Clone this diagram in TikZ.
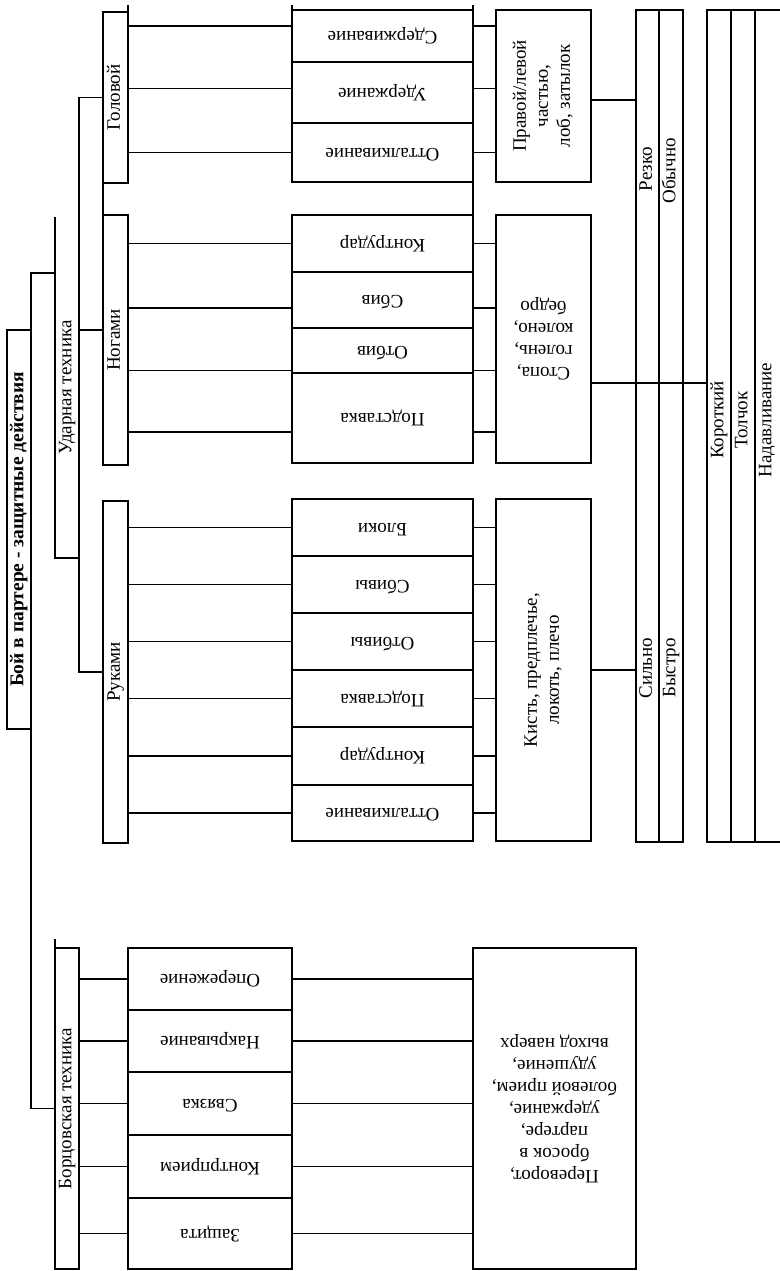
\documentclass[tikz,border=0pt]{standalone}
\usepackage{fontspec}
\setmainfont{Liberation Serif}
\usepackage{graphicx}
\usepackage{tikz}

\newcommand{\uptext}[1]{\rotatebox{90}{\begin{tabular}{@{}c@{}}#1\end{tabular}}}
\newcommand{\fliptext}[1]{\rotatebox{180}{\begin{tabular}{@{}c@{}}#1\end{tabular}}}

\begin{document}
\begin{tikzpicture}[
  x=1pt,
  y=-1pt,
  box/.style={draw, line width=1.2pt, inner sep=0pt, outer sep=0pt, font=\fontsize{19}{22}\selectfont},
  lab/.style={inner sep=0pt, font=\fontsize{19}{22}\selectfont},
  conn/.style={line width=1.2pt}
]
  \useasboundingbox (0,0) rectangle (779,1271);

  % main branches
  \node[box, minimum width=24pt, minimum height=399pt] (root) at (19,529.5)
    {\uptext{\fontsize{19.5}{22}\selectfont\textbf{Бой в партере - защитные действия}}};
  \node[box, draw=none, minimum width=24pt, minimum height=341pt] (udar) at (67,387.5)
    {\uptext{Ударная техника}};
  \node[box, minimum width=24pt, minimum height=321pt] (bort) at (67,1108.5)
    {\uptext{Борцовская техника}};
  \node[box, minimum width=25pt, minimum height=171pt] (gol) at (115.5,97.5) {\uptext{Головой}};
  \node[box, minimum width=25pt, minimum height=250pt] (nog) at (115.5,340) {\uptext{Ногами}};
  \node[box, minimum width=25pt, minimum height=342pt] (ruk) at (115.5,672) {\uptext{Руками}};

  % actions
  \node[box, minimum width=181pt, minimum height=52pt] (g1) at (382.5,36) {\fliptext{Сдерживание}};
  \node[box, minimum width=181pt, minimum height=61pt] (g2) at (382.5,92.5) {\fliptext{Удержание}};
  \node[box, minimum width=181pt, minimum height=59pt] (g3) at (382.5,152.5) {\fliptext{Отталкивание}};
  \node[box, minimum width=181pt, minimum height=57pt] (n1) at (382.5,243.5) {\fliptext{Контрудар}};
  \node[box, minimum width=181pt, minimum height=56pt] (n2) at (382.5,300) {\fliptext{Сбив}};
  \node[box, minimum width=181pt, minimum height=45pt] (n3) at (382.5,350.5) {\fliptext{Отбив}};
  \node[box, minimum width=181pt, minimum height=90pt] (n4) at (382.5,418) {\fliptext{Подставка}};
  \node[box, minimum width=181pt, minimum height=57pt] (r1) at (382.5,527.5) {\fliptext{Блоки}};
  \node[box, minimum width=181pt, minimum height=57pt] (r2) at (382.5,584.5) {\fliptext{Сбивы}};
  \node[box, minimum width=181pt, minimum height=57pt] (r3) at (382.5,641.5) {\fliptext{Отбивы}};
  \node[box, minimum width=181pt, minimum height=57pt] (r4) at (382.5,698.5) {\fliptext{Подставка}};
  \node[box, minimum width=181pt, minimum height=58pt] (r5) at (382.5,756) {\fliptext{Контрудар}};
  \node[box, minimum width=181pt, minimum height=56pt] (r6) at (382.5,813) {\fliptext{Отталкивание}};
  \node[box, minimum width=164pt, minimum height=62pt] (b1) at (210,979) {\fliptext{Опережение}};
  \node[box, minimum width=164pt, minimum height=62pt] (b2) at (210,1041) {\fliptext{Накрывание}};
  \node[box, minimum width=164pt, minimum height=63pt] (b3) at (210,1103.5) {\fliptext{Связка}};
  \node[box, minimum width=164pt, minimum height=63pt] (b4) at (210,1166.5) {\fliptext{Контрприем}};
  \node[box, minimum width=164pt, minimum height=71pt] (b5) at (210,1233.5) {\fliptext{Защита}};

  % body parts
  \node[box, minimum width=95pt, minimum height=172pt] (golp) at (543.5,96)
    {\uptext{Правой/левой\\частью,\\лоб, затылок}};
  \node[box, minimum width=95pt, minimum height=248pt] (nogp) at (543.5,339)
    {\fliptext{Стопа,\\голень,\\колено,\\бедро}};
  \node[box, minimum width=95pt, minimum height=342pt] (rukp) at (543.5,670)
    {\uptext{Кисть, предплечье,\\локоть, плечо}};
  \node[box, minimum width=163pt, minimum height=321pt] (bortp) at (554.5,1108.5)
    {\fliptext{Переворот,\\бросок в\\партере,\\удержание,\\болевой прием,\\удушение,\\выход наверх}};

  % manner columns
  \node[box, minimum width=23pt, minimum height=832pt] (cA1) at (647.5,426) {};
  \node[box, minimum width=24pt, minimum height=832pt] (cA2) at (671,426) {};
  \node[box, minimum width=24pt, minimum height=832pt] (cB1) at (719,426) {};
  \node[box, minimum width=24pt, minimum height=832pt] (cB2) at (743,426) {};
  \node[box, minimum width=30pt, minimum height=832pt] (cB3) at (770,426) {};
  \node[lab] (rezko) at (647.5,169) {\uptext{Резко}};
  \node[lab] (obychno) at (671,171) {\uptext{Обычно}};
  \node[lab] (silno) at (647.5,668) {\uptext{Сильно}};
  \node[lab] (bystro) at (671,668) {\uptext{Быстро}};
  \node[lab] (korot) at (719,420) {\uptext{Короткий}};
  \node[lab] (tolchok) at (743,420) {\uptext{Толчок}};
  \node[lab] (nadav) at (767,420) {\uptext{Надавливание}};

  % tree lines
  \draw[conn] (bort.west) -| (root.east) |- ([yshift=114.5pt]udar.west);
  \draw[conn] (udar.north west) -- (udar.south west) -- (udar.south east);
  \draw[conn] (gol.west) -| (udar.east) |- (ruk.west);
  \draw[conn] ([yshift=10pt]nog.west) -- ([yshift=10pt]nog.west -| udar.east);
  \draw[conn] (gol.south west) -- (nog.north west);
  \draw[conn] (gol.north east) -- ++(0,-7);
  \draw[conn] (g1.north west) -- ++(0,-5);
  \draw[conn] (g1.north east) -- ++(0,-5);
  \draw[conn] (g3.south east) -- (n1.north east);
  \draw[conn] (bort.north west) -- ++(0,-9);

  \draw[conn] ([yshift=10pt]g1.west -| gol.east) -- ([yshift=10pt]g1.west);
  \draw[conn] ([yshift=4pt]g2.west -| gol.east) -- ([yshift=4pt]g2.west);
  \draw[conn] (g3.west -| gol.east) -- (g3.west);
  \draw[conn] ([yshift=10pt]g1.east) -- ([yshift=10pt]g1.east -| golp.west);
  \draw[conn] ([yshift=4pt]g2.east) -- ([yshift=4pt]g2.east -| golp.west);
  \draw[conn] (g3.east) -- (g3.east -| golp.west);

  \draw[conn] (n1.west -| nog.east) -- (n1.west);
  \draw[conn] ([yshift=-8pt]n2.west -| nog.east) -- ([yshift=-8pt]n2.west);
  \draw[conn] ([yshift=-20pt]n3.west -| nog.east) -- ([yshift=-20pt]n3.west);
  \draw[conn] ([yshift=-14pt]n4.west -| nog.east) -- ([yshift=-14pt]n4.west);
  \draw[conn] (n1.east) -- (n1.east -| nogp.west);
  \draw[conn] ([yshift=-8pt]n2.east) -- ([yshift=-8pt]n2.east -| nogp.west);
  \draw[conn] ([yshift=-20pt]n3.east) -- ([yshift=-20pt]n3.east -| nogp.west);
  \draw[conn] ([yshift=-14pt]n4.east) -- ([yshift=-14pt]n4.east -| nogp.west);

  \draw[conn] (r1.west -| ruk.east) -- (r1.west);
  \draw[conn] (r2.west -| ruk.east) -- (r2.west);
  \draw[conn] (r3.west -| ruk.east) -- (r3.west);
  \draw[conn] (r4.west -| ruk.east) -- (r4.west);
  \draw[conn] (r5.west -| ruk.east) -- (r5.west);
  \draw[conn] (r6.west -| ruk.east) -- (r6.west);
  \draw[conn] (r1.east) -- (r1.east -| rukp.west);
  \draw[conn] (r2.east) -- (r2.east -| rukp.west);
  \draw[conn] (r3.east) -- (r3.east -| rukp.west);
  \draw[conn] (r4.east) -- (r4.east -| rukp.west);
  \draw[conn] (r5.east) -- (r5.east -| rukp.west);
  \draw[conn] (r6.east) -- (r6.east -| rukp.west);

  \draw[conn] (b1.west -| bort.east) -- (b1.west);
  \draw[conn] (b2.west -| bort.east) -- (b2.west);
  \draw[conn] (b3.west -| bort.east) -- (b3.west);
  \draw[conn] (b4.west -| bort.east) -- (b4.west);
  \draw[conn] (b5.west -| bort.east) -- (b5.west);
  \draw[conn] (b1.east) -- (b1.east -| bortp.west);
  \draw[conn] (b2.east) -- (b2.east -| bortp.west);
  \draw[conn] (b3.east) -- (b3.east -| bortp.west);
  \draw[conn] (b4.east) -- (b4.east -| bortp.west);
  \draw[conn] (b5.east) -- (b5.east -| bortp.west);

  \draw[conn] ([yshift=-4pt]golp.east) -- ([yshift=-4pt]golp.east -| cA1.west);
  \draw[conn] ([yshift=-44pt]nogp.east) -- ([yshift=-44pt]nogp.east -| cB1.west);
  \draw[conn] (rukp.east) -- (rukp.east -| cA1.west);
\end{tikzpicture}
\end{document}
